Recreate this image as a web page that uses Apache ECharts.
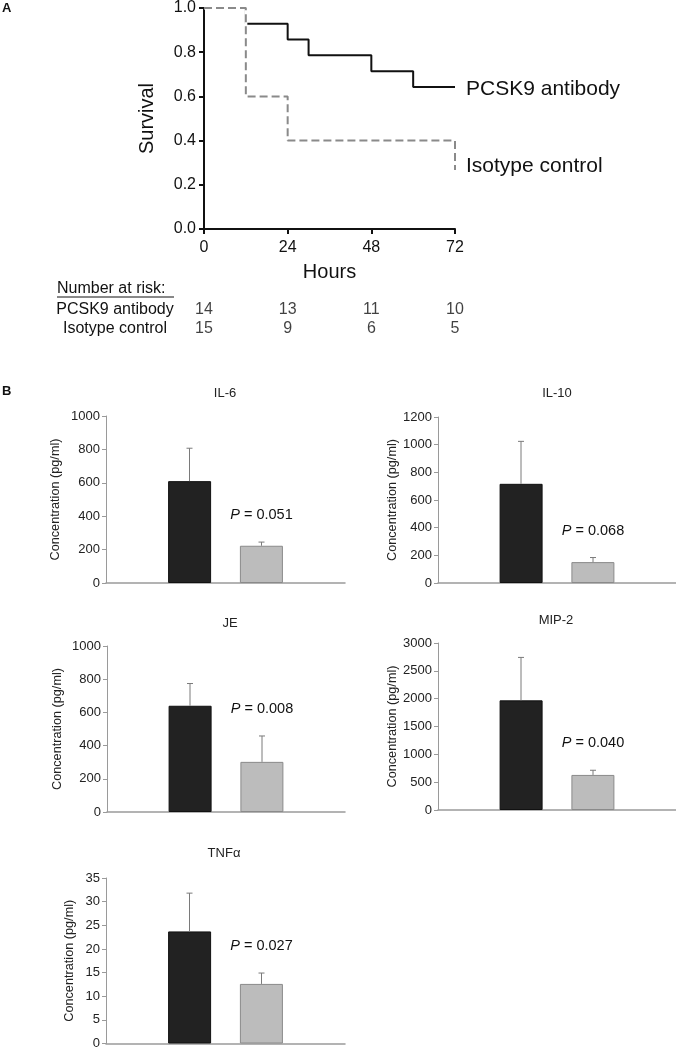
<!DOCTYPE html>
<html><head><meta charset="utf-8">
<script src="https://cdn.jsdelivr.net/npm/echarts@6/dist/echarts.min.js"></script>
<style>html,body{margin:0;padding:0;background:#fff}#c{width:676px;height:1050px}</style>
</head><body><div id="c"></div>
<script>
const FONT = '"Liberation Sans", Arial, Helvetica, sans-serif';

// ---------- Panel A data ----------
const pcsk9Hours = [0, 12, 24, 30, 48, 60, 72];
const pcsk9Survival = [1.0, 0.929, 0.857, 0.786, 0.714, 0.643, 0.643];
const isoHours = [0, 12, 24, 72, 72];
const isoSurvival = [1.0, 0.6, 0.4, 0.4, 0.267];
const riskHours = [0, 24, 48, 72];
const riskGroups = ['PCSK9 antibody', 'Isotype control'];
const riskPCSK9 = [14, 13, 11, 10];
const riskIso = [15, 9, 6, 5];

// ---------- Panel B data ----------
const cytokines = ['IL-6', 'IL-10', 'JE', 'MIP-2', 'TNFα'];
const blackMean = [610, 717, 640, 1970, 23.7];
const blackUpper = [807, 1024, 774, 2741, 31.8];
const grayMean = [223, 151, 302, 630, 12.6];
const grayUpper = [245, 184, 458, 714, 14.9];
const pValues = ['0.051', '0.068', '0.008', '0.040', '0.027'];
const yMaxes = [1000, 1200, 1000, 3000, 35];
const yIntervals = [200, 200, 200, 500, 5];

// ---------- layout ----------
const barLayout = [
  {left: 106, top: 416, width: 239, height: 167, nameGap: 44, tx: 225, ty: 393},
  {left: 438, top: 417, width: 238, height: 166, nameGap: 38, tx: 557, ty: 393},
  {left: 107, top: 646, width: 238, height: 166, nameGap: 43, tx: 230, ty: 623},
  {left: 438, top: 643, width: 238, height: 167, nameGap: 39, tx: 556, ty: 620},
  {left: 106, top: 878, width: 239, height: 166, nameGap: 30, tx: 224, ty: 853}
];
const BAR_OFFSET = 36;

const grids = [
  {left: 204, top: 6, width: 251, height: 223},
  {left: 204, top: 300, width: 251, height: 38}
];
const xAxes = [
  {gridIndex: 0, type: 'value', min: 0, max: 72, interval: 24,
   axisLine: {lineStyle: {color: '#111', width: 2}},
   axisTick: {length: 5, lineStyle: {color: '#111', width: 2}},
   axisLabel: {fontSize: 16, color: '#111', fontFamily: FONT, margin: 11},
   splitLine: {show: false},
   name: 'Hours', nameLocation: 'middle', nameGap: 33,
   nameTextStyle: {fontSize: 20, color: '#111', fontFamily: FONT}},
  {gridIndex: 1, type: 'value', min: 0, max: 72, show: false}
];
const yAxes = [
  {gridIndex: 0, type: 'value', min: 0, max: 1, interval: 0.2,
   axisLine: {show: true, lineStyle: {color: '#111', width: 2}},
   axisTick: {show: true, length: 5, lineStyle: {color: '#111', width: 2}},
   axisLabel: {fontSize: 16, color: '#111', fontFamily: FONT, margin: 8, formatter: v => v.toFixed(1)},
   splitLine: {show: false},
   name: 'Survival', nameLocation: 'middle', nameGap: 47, nameRotate: 90,
   nameTextStyle: {fontSize: 20, color: '#111', fontFamily: FONT}},
  {gridIndex: 1, type: 'category', data: riskGroups, inverse: true,
   axisLine: {show: false}, axisTick: {show: false},
   axisLabel: {fontSize: 16, color: '#111', fontFamily: FONT, align: 'center', margin: 89, interval: 0},
   splitLine: {show: false}}
];

const series = [
  {type: 'line', xAxisIndex: 0, yAxisIndex: 0, name: 'PCSK9 antibody', step: 'end',
   data: pcsk9Hours.map((h, i) => [h, pcsk9Survival[i]]), showSymbol: false, symbol: 'none',
   lineStyle: {color: '#111', width: 2}, z: 2, animation: false,
   endLabel: {show: true, formatter: '{a}', fontSize: 21, color: '#111', fontFamily: FONT, distance: 11, offset: [0, 2]}},
  {type: 'line', xAxisIndex: 0, yAxisIndex: 0, name: 'iso-under', step: 'end',
   data: isoHours.map((h, i) => [h, isoSurvival[i]]), showSymbol: false, symbol: 'none',
   lineStyle: {color: '#fff', width: 3}, z: 3, animation: false},
  {type: 'line', xAxisIndex: 0, yAxisIndex: 0, name: 'Isotype control', step: 'end',
   data: isoHours.map((h, i) => [h, isoSurvival[i]]), showSymbol: false, symbol: 'none',
   lineStyle: {color: '#8a8a8a', width: 2, type: [8, 4]}, z: 4, animation: false,
   endLabel: {show: true, formatter: '{a}', fontSize: 21, color: '#111', fontFamily: FONT, distance: 11, offset: [0, -4]}},
  {type: 'scatter', xAxisIndex: 1, yAxisIndex: 1, symbolSize: 1, animation: false,
   itemStyle: {color: 'rgba(0,0,0,0)'},
   data: riskHours.map((h, i) => [h, riskGroups[0], riskPCSK9[i]]).concat(
         riskHours.map((h, i) => [h, riskGroups[1], riskIso[i]])),
   label: {show: true, position: 'inside', formatter: p => String(p.value[2]), fontSize: 16, color: '#111', fontFamily: FONT}}
];

const graphics = [
  {type: 'text', x: 2, y: 2, style: {text: 'A', font: 'bold 13px ' + FONT, fill: '#111'}},
  {type: 'text', x: 2, y: 385, style: {text: 'B', font: 'bold 13px ' + FONT, fill: '#111'}},
  {type: 'text', x: 57, y: 289, style: {text: 'Number at risk:', font: '16px ' + FONT, fill: '#111', textVerticalAlign: 'middle'}},
  {type: 'line', shape: {x1: 57, y1: 297, x2: 174, y2: 297}, style: {stroke: '#111', lineWidth: 1}}
];

function errRender(offset, pText) {
  return function (params, api) {
    const base = api.coord([api.value(0), api.value(1)]);
    const top = api.coord([api.value(0), api.value(2)]);
    const x = base[0] + offset;
    const children = [
      {type: 'line', shape: {x1: x, y1: base[1], x2: x, y2: top[1]}, style: {stroke: '#7a7a7a', lineWidth: 1}},
      {type: 'line', shape: {x1: x - 3, y1: top[1], x2: x + 3, y2: top[1]}, style: {stroke: '#7a7a7a', lineWidth: 1}}
    ];
    if (pText) {
      children.push({type: 'text', x: x, y: top[1] - 27,
        style: {text: '{i|P} = ' + pText, fontSize: 14.5, fontFamily: FONT, fill: '#111',
          align: 'center', verticalAlign: 'middle',
          rich: {i: {fontStyle: 'italic', fontSize: 14.5, fontFamily: FONT, fill: '#111'}}}});
    }
    return {type: 'group', children};
  };
}

cytokines.forEach((name, k) => {
  const L = barLayout[k];
  const gi = grids.length;
  grids.push({left: L.left, top: L.top, width: L.width, height: L.height});
  xAxes.push({gridIndex: gi, type: 'category', data: [''],
    axisLine: {lineStyle: {color: '#9a9a9a', width: 1.5}}, axisTick: {show: false}, axisLabel: {show: false}});
  yAxes.push({gridIndex: gi, type: 'value', min: 0, max: yMaxes[k], interval: yIntervals[k],
    axisLine: {show: true, lineStyle: {color: '#9a9a9a', width: 1}},
    axisTick: {show: true, length: 4, lineStyle: {color: '#9a9a9a'}},
    axisLabel: {fontSize: 13, color: '#222', fontFamily: FONT, margin: 6, formatter: v => String(v)},
    splitLine: {show: false},
    name: 'Concentration (pg/ml)', nameLocation: 'middle', nameRotate: 90, nameGap: L.nameGap,
    nameTextStyle: {fontSize: 12.7, color: '#222', fontFamily: FONT}});
  series.push(
    {type: 'bar', xAxisIndex: gi, yAxisIndex: gi, name: 'Isotype control', data: [blackMean[k]],
     barWidth: 43, barGap: '67%', itemStyle: {color: '#222', borderColor: '#111', borderWidth: 1}, animation: false},
    {type: 'bar', xAxisIndex: gi, yAxisIndex: gi, name: 'PCSK9 antibody', data: [grayMean[k]],
     barWidth: 43, barGap: '67%', itemStyle: {color: '#bcbcbc', borderColor: '#8a8a8a', borderWidth: 1}, animation: false},
    {type: 'custom', xAxisIndex: gi, yAxisIndex: gi, renderItem: errRender(-BAR_OFFSET, null),
     data: [[0, blackMean[k], blackUpper[k]]], encode: {x: 0, y: [1, 2]}, z: 5, animation: false},
    {type: 'custom', xAxisIndex: gi, yAxisIndex: gi, renderItem: errRender(BAR_OFFSET, pValues[k]),
     data: [[0, grayMean[k], grayUpper[k]]], encode: {x: 0, y: [1, 2]}, z: 5, animation: false}
  );
  graphics.push({type: 'text', x: L.tx, y: L.ty,
    style: {text: name, font: '13px ' + FONT, fill: '#222', textAlign: 'center', textVerticalAlign: 'middle'}});
});

const chart = echarts.init(document.getElementById('c'), null, {renderer: 'canvas'});
chart.setOption({
  backgroundColor: '#fff',
  animation: false,
  textStyle: {fontFamily: FONT},
  grid: grids, xAxis: xAxes, yAxis: yAxes, series: series, graphic: graphics
});
</script></body></html>
